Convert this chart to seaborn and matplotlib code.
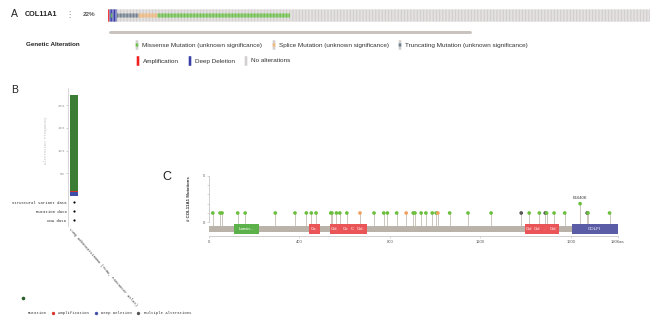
import numpy as np
import pandas as pd
import matplotlib
matplotlib.use("Agg")
import matplotlib.pyplot as plt
import seaborn as sns
from matplotlib.patches import Rectangle, FancyBboxPatch
from matplotlib.lines import Line2D

# ---------------- data ----------------
gene_name = "COL11A1"
altered_label = "22%"
onco_types = ["amp", "homdel", "trunc", "splice", "missense", "none"]
onco_counts = [1, 5, 15, 13, 91, 247]
homdel_with_missense = [0, 1, 0, 0, 0]

legend_row1 = ["Missense Mutation (unknown significance)",
               "Splice Mutation (unknown significance)",
               "Truncating Mutation (unknown significance)"]
legend_row2 = ["Amplification", "Deep Deletion", "No alterations"]

b_study = "Lung Adenocarcinoma (TCGA, PanCancer Atlas)"
b_categories = ["Mutation", "Amplification", "Deep Deletion"]
b_freq = [21.2, 0.2, 0.8]
b_ticks = [5, 10, 15, 20]
b_rows = ["Structural variant data", "Mutation data", "CNA data"]
b_legend = ["Mutation", "Amplification", "Deep Deletion", "Multiple Alterations"]

protein_length = 1806
mut_pos = [18, 50, 59, 128, 161, 294, 381, 431, 453, 474, 539, 544, 564, 579, 610,
           668, 730, 773, 789, 830, 872, 903, 911, 938, 959, 987, 1004, 1012, 1064,
           1145, 1247, 1380, 1415, 1460, 1486, 1492, 1525, 1572, 1640, 1671, 1675, 1770]
mut_count = [1] * len(mut_pos)
mut_count[mut_pos.index(1640)] = 2
mut_type = ["missense"] * len(mut_pos)
for p in (668, 872, 1012):
    mut_type[mut_pos.index(p)] = "splice"
for p in (1380, 1486, 1671):
    mut_type[mut_pos.index(p)] = "trunc"
hot_label = "E1640K"
hot_pos = 1640

domain_names = ["Lamin...", "Co.", "Col.", "Co", "C", "Col.", "Col", "Col", ".", "Col.", "COLFI"]
domain_start = [112, 441, 535, 580, 625, 642, 1398, 1432, 1466, 1498, 1602]
domain_end = [224, 490, 580, 625, 642, 700, 1432, 1466, 1498, 1547, 1806]
domain_kind = ["lam", "col", "col", "col", "col", "col", "col", "col", "col", "col", "colfi"]
c_xticks = [0, 400, 800, 1200, 1600, 1806]
c_xticklabels = ["0", "400", "800", "1200", "1600", "1806aa"]

# ---------------- styling ----------------
sns.set_theme(style="white")
plt.rcParams["font.family"] = ["Liberation Sans", "DejaVu Sans"]
MONO = ["Liberation Mono", "DejaVu Sans Mono"]

GRAY = "#d3cfce"
C_MIS = "#6cc24a"
C_SPL = "#f0b87b"
C_TRU = "#708090"
C_AMP = "#f02020"
C_DEL = "#3a3fa8"

W, H = 669, 332
fig = plt.figure(figsize=(W / 100, H / 100), dpi=100)


def ax_px(x0, y0, x1, y1):
    return fig.add_axes([x0 / W, 1 - y1 / H, (x1 - x0) / W, (y1 - y0) / H])


def fx(x):
    return x / W


def fy(y):
    return 1 - y / H


def T(x, y, s, **kw):
    kw.setdefault("va", "center")
    return fig.text(fx(x), fy(y), s, **kw)


# ---------------- Panel A ----------------
T(10.5, 14, "A", fontsize=7.5, color="#222")
T(25, 14.7, gene_name, fontsize=5.2, weight="bold", color="#222")
T(69.5, 14.7, "\u22ee", fontsize=6, color="#888", ha="center", family=["DejaVu Sans"])
T(83, 14.7, altered_label, fontsize=4.6, weight="bold", color="#555")

ax_on = ax_px(108, 9.3, 650, 21.7)
N = sum(onco_counts)
stype = np.repeat(onco_types, onco_counts)
xs = np.arange(N)
bg_map = {"amp": C_AMP, "homdel": C_DEL}
bg = [bg_map.get(t, GRAY) for t in stype]
bars = ax_on.bar(xs, 1, width=0.8, color=bg, linewidth=0)
for b in bars:
    b.set_snap(False)
mut_map = {"trunc": C_TRU, "splice": C_SPL, "missense": C_MIS}
mi, mc = [], []
hd_idx = np.where(stype == "homdel")[0]
for k, i in enumerate(hd_idx):
    if homdel_with_missense[k]:
        mi.append(i); mc.append(C_MIS)
for i, t in enumerate(stype):
    if t in mut_map:
        mi.append(i); mc.append(mut_map[t])
bars2 = ax_on.bar(xs[mi], 0.33, bottom=0.335, width=0.8, color=mc, linewidth=0)
for b in bars2:
    b.set_snap(False)
ax_on.set_xlim(-0.5, N - 0.5)
ax_on.set_ylim(0, 1)
ax_on.axis("off")

fig.add_artist(FancyBboxPatch((fx(109), fy(34)), fx(472) - fx(109), fy(31) - fy(34),
                              boxstyle="round,pad=0,rounding_size=0.004",
                              transform=fig.transFigure, color="#c8c3bf", lw=0))

T(25.5, 45, "Genetic Alteration", fontsize=4.5, weight="bold", color="#222")


def leg_marker(x, y, color, inner=None):
    r = Rectangle((fx(x - 1.3), fy(y + 4.8)), fx(2.6), 9.6 / H,
                  transform=fig.transFigure, color=color, lw=0)
    r.set_snap(False)
    fig.add_artist(r)
    if inner:
        r2 = Rectangle((fx(x - 1.3), fy(y + 1.6)), fx(2.6), 3.2 / H,
                       transform=fig.transFigure, color=inner, lw=0)
        r2.set_snap(False)
        fig.add_artist(r2)


row1_x = [137, 274, 400]
row1_inner = [C_MIS, C_SPL, C_TRU]
for x, lab, inn in zip(row1_x, legend_row1, row1_inner):
    leg_marker(x, 45, GRAY, inn)
    T(x + 5, 45, lab, fontsize=4.6, color="#333")
row2_x = [138, 190, 246]
row2_col = [C_AMP, C_DEL, GRAY]
for x, lab, c in zip(row2_x, legend_row2, row2_col):
    leg_marker(x, 61, c)
    T(x + 5, 61, lab, fontsize=4.6, color="#333")

# ---------------- Panel B ----------------
T(11.5, 90, "B", fontsize=7.5, color="#222")
ax_b = ax_px(68.3, 88, 79.3, 196)
cum = [sum(b_freq), b_freq[1] + b_freq[2], b_freq[2]]
cols = ["#3b7d34", "#d9352b", "#3f4fa8"]
for h, c in zip(cum, cols):
    sns.barplot(x=[b_study], y=[h], color=c, saturation=1, width=0.70, ax=ax_b, linewidth=0)
ax_b.set_xlim(-0.5, 0.5)
ax_b.set_ylim(0, 108 / 4.54)
ax_b.set_xticks([])
ax_b.set_xlabel("")
ax_b.set_ylabel("")
ax_b.set_yticks(b_ticks)
ax_b.set_yticklabels([f"{t}%" for t in b_ticks], fontsize=2.8, color="#999", family=MONO)
ax_b.tick_params(axis="y", length=1.5, width=0.4, color="#aaa", pad=1.2, left=True)
for s in ["top", "right", "bottom"]:
    ax_b.spines[s].set_visible(False)
ax_b.spines["left"].set_color("#c8c8c8")
ax_b.spines["left"].set_linewidth(0.5)
ax_b.patch.set_alpha(0)
T(46, 140, "Alteration Frequency", fontsize=2.8, color="#bbb", rotation=90,
  ha="center", family=MONO)

ax_r = ax_px(68.3, 196, 79.3, 226)
sns.scatterplot(x=[0.5, 0.5, 0.5], y=[0, 1, 2], color="black", s=2.5, linewidth=0,
                ax=ax_r, legend=False)
ax_r.set_xlim(0, 1)
ax_r.set_ylim(2 + 6 / 8.85, -6.3 / 8.85)
ax_r.set_yticks([0, 1, 2])
ax_r.set_yticklabels(b_rows, fontsize=2.8, color="#222", family=MONO)
ax_r.tick_params(axis="y", length=0, pad=1.3)
ax_r.set_xticks([])
ax_r.set_xlabel(""); ax_r.set_ylabel("")
for s in ["top", "right", "bottom"]:
    ax_r.spines[s].set_visible(False)
ax_r.spines["left"].set_color("#c8c8c8")
ax_r.spines["left"].set_linewidth(0.5)
ax_r.patch.set_alpha(0)

T(71, 227, b_study, fontsize=2.8, color="#333", rotation=-49, rotation_mode="anchor",
  ha="left", va="top", family=MONO)

fig.add_artist(Line2D([fx(22.7)], [fy(297.7)], marker="o", ms=1.6, color="#2d5e2d",
                      lw=0, transform=fig.transFigure))
bl_dot_x = [None, 52.7, 95.7, 138.3]
bl_txt_x = [28, 58.3, 101, 144]
bl_col = [None, "#d9352b", "#3f4fa8", "#555555"]
for dx, tx, lab, c in zip(bl_dot_x, bl_txt_x, b_legend, bl_col):
    if dx is not None:
        fig.add_artist(Line2D([fx(dx)], [fy(313)], marker="o", ms=1.4, color=c,
                              lw=0, transform=fig.transFigure))
    T(tx, 313, lab, fontsize=2.8, color="#333", family=MONO)

# ---------------- Panel C ----------------
T(162, 177.5, "C", fontsize=9, color="#222")
ax_c = ax_px(208.7, 174.8, 617.7, 235.8)
ax_c.set_xlim(0, protein_length)
ax_c.set_ylim(-1.45, 5.1)
ax_c.patch.set_alpha(0)

ax_c.vlines(mut_pos, -0.4, mut_count, color="#cdc6bf", lw=0.7, zorder=1)
pal = {"missense": "#6cbf3e", "splice": "#f0a15f", "trunc": "#555555"}
sns.scatterplot(x=mut_pos, y=mut_count, hue=mut_type, palette=pal, s=7, linewidth=0,
                legend=False, ax=ax_c, zorder=3)
ax_c.text(hot_pos, 2.4, hot_label, ha="center", va="bottom", fontsize=3, color="#333")

ax_c.add_patch(Rectangle((0, -1.0), protein_length, 0.6, color="#bab3a9", lw=0, zorder=2))
dcol = {"lam": "#5cb14a", "col": "#ea5558", "colfi": "#5b5ca6"}
for n, s, e, k in zip(domain_names, domain_start, domain_end, domain_kind):
    ax_c.add_patch(Rectangle((s, -1.26), e - s, 1.08, color=dcol[k], lw=0, zorder=3))
    ax_c.text((s + e) / 2, -0.72, n, ha="center", va="center", fontsize=3.2,
              color="white", zorder=4)

for s in ["top", "right"]:
    ax_c.spines[s].set_visible(False)
ax_c.spines["left"].set_bounds(0, 5)
ax_c.spines["bottom"].set_bounds(0, protein_length)
for s in ["left", "bottom"]:
    ax_c.spines[s].set_color("#bbbbbb")
    ax_c.spines[s].set_linewidth(0.5)
ax_c.set_yticks([0, 5])
ax_c.set_yticks([1, 2, 3, 4], minor=True)
ax_c.set_yticklabels(["0", "5"], fontsize=3, color="#555")
ax_c.set_xticks(c_xticks)
ax_c.set_xticklabels(c_xticklabels, fontsize=3, color="#555")
ax_c.tick_params(axis="both", which="both", length=1.6, width=0.4, color="#bbb", pad=1.2,
                 left=True, bottom=True)
ax_c.set_xlabel(""); ax_c.set_ylabel("")
T(189, 199, "# COL11A1 Mutations", fontsize=3.2, color="#333", rotation=90,
  ha="center", weight="bold")

fig.savefig("out.png", dpi=100, facecolor="white")
